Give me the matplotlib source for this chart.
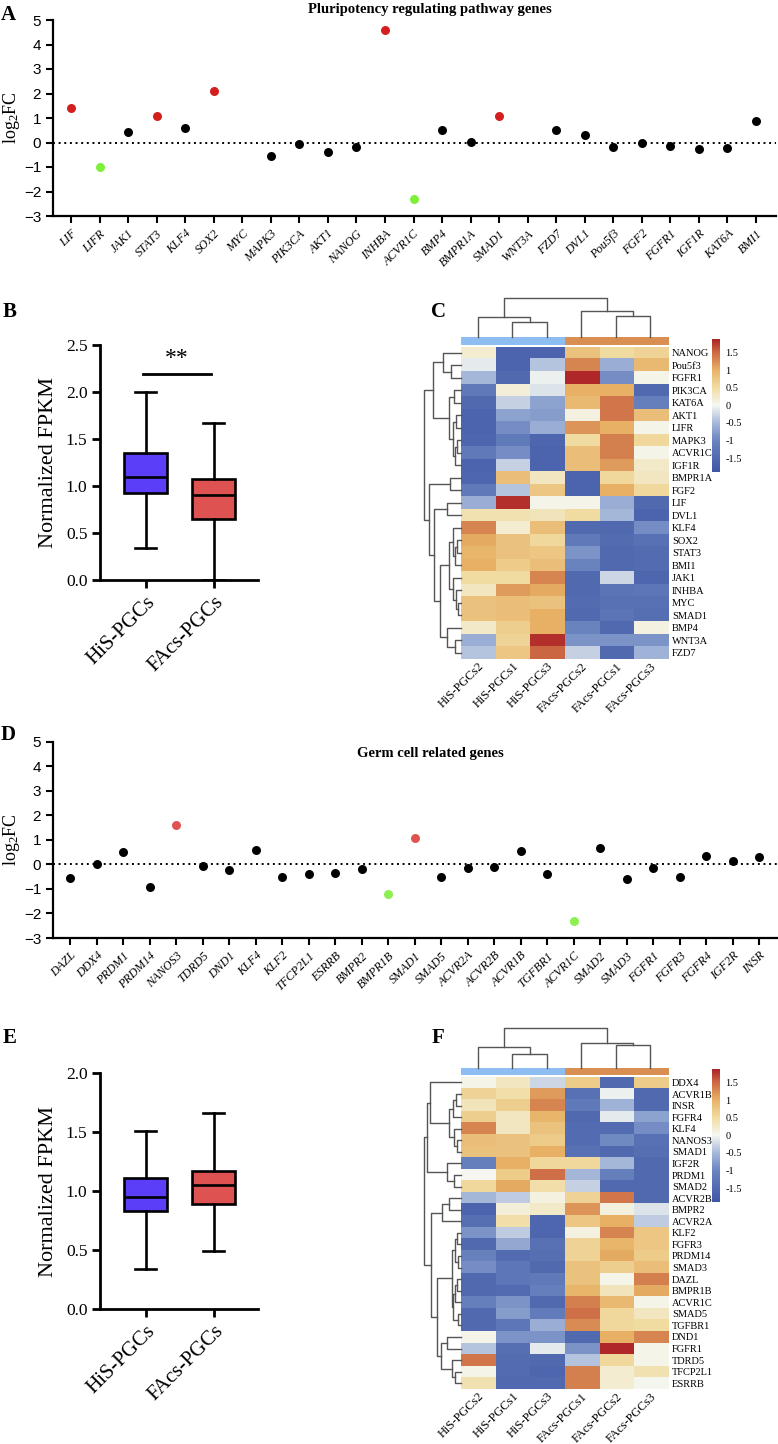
import numpy as np
import matplotlib
matplotlib.use("Agg")
import matplotlib.pyplot as plt
from matplotlib.colors import LinearSegmentedColormap, ListedColormap

SERIF = "Liberation Serif"
SANS = "Liberation Sans"
plt.rcParams["mathtext.fontset"] = "custom"
plt.rcParams["mathtext.rm"] = SERIF
plt.rcParams["mathtext.it"] = SERIF + ":italic"

# --- panel A: pluripotency genes, log2FC ------------------------------------
genes_a = ["LIF", "LIFR", "JAK1", "STAT3", "KLF4", "SOX2", "MYC", "MAPK3",
           "PIK3CA", "AKT1", "NANOG", "INHBA", "ACVR1C", "BMP4", "BMPR1A",
           "SMAD1", "WNT3A", "FZD7", "DVL1", "Pou5f3", "FGF2", "FGFR1",
           "IGF1R", "KAT6A", "BMI1"]
lfc_a = [1.41, -0.99, 0.41, 1.07, 0.61, 2.11, np.nan, -0.56, -0.08, -0.38,
         -0.18, 4.58, -2.30, 0.52, 0.04, 1.09, np.nan, 0.52, 0.30, -0.18,
         -0.04, -0.15, -0.27, -0.22, 0.86]
status_a = ["up", "down", "ns", "up", "ns", "up", "ns", "ns", "ns", "ns",
            "ns", "up", "down", "ns", "ns", "up", "ns", "ns", "ns", "ns",
            "ns", "ns", "ns", "ns", "ns"]

# --- panel D: germ cell genes, log2FC ---------------------------------------
genes_d = ["DAZL", "DDX4", "PRDM1", "PRDM14", "NANOS3", "TDRD5", "DND1",
           "KLF4", "KLF2", "TFCP2L1", "ESRRB", "BMPR2", "BMPR1B", "SMAD1",
           "SMAD5", "ACVR2A", "ACVR2B", "ACVR1B", "TGFBR1", "ACVR1C", "SMAD2",
           "SMAD3", "FGFR1", "FGFR3", "FGFR4", "IGF2R", "INSR"]
lfc_d = [-0.57, 0.01, 0.49, -0.93, 1.62, -0.05, -0.23, 0.60, -0.53, -0.41,
         -0.35, -0.19, -1.21, 1.07, -0.50, -0.14, -0.10, 0.56, -0.39, -2.30,
         0.65, -0.59, -0.16, -0.52, 0.34, 0.14, 0.31]
status_d = ["ns", "ns", "ns", "ns", "up", "ns", "ns", "ns", "ns", "ns",
            "ns", "ns", "down", "up", "ns", "ns", "ns", "ns", "ns", "down",
            "ns", "ns", "ns", "ns", "ns", "ns", "ns"]

# --- panels B / E: box summaries (whislo, q1, median, q3, whishi) -----------
groups = ["HiS-PGCs", "FAcs-PGCs"]
box_b = [[0.34, 0.93, 1.10, 1.35, 2.00],
         [0.00, 0.65, 0.90, 1.07, 1.67]]
box_e = [[0.34, 0.83, 0.95, 1.11, 1.51],
         [0.49, 0.89, 1.05, 1.17, 1.66]]

# --- panel C heatmap ---------------------------------------------------------
cols_c = ["HiS-PGCs2", "HiS-PGCs1", "HiS-PGCs3",
          "FAcs-PGCs2", "FAcs-PGCs1", "FAcs-PGCs3"]
rows_c = ["NANOG", "Pou5f3", "FGFR1", "PIK3CA", "KAT6A", "AKT1", "LIFR",
          "MAPK3", "ACVR1C", "IGF1R", "BMPR1A", "FGF2", "LIF", "DVL1", "KLF4",
          "SOX2", "STAT3", "BMI1", "JAK1", "INHBA", "MYC", "SMAD1", "BMP4",
          "WNT3A", "FZD7"]
z_c = [[0.20, -1.60, -1.60, 0.80, 0.50, 0.60],
       [-0.10, -1.60, -0.40, 1.30, -0.60, 0.90],
       [-0.50, -1.50, -0.05, 1.85, -0.90, 0.05],
       [-1.20, 0.15, -0.15, 1.00, 1.00, -1.50],
       [-1.50, -0.30, -0.70, 0.90, 1.40, -1.10],
       [-1.60, -0.70, -0.75, 0.10, 1.40, 0.85],
       [-1.60, -0.90, -0.60, 1.20, 1.00, 0.05],
       [-1.55, -1.20, -1.55, 0.50, 1.35, 0.55],
       [-1.20, -0.90, -1.60, 0.85, 1.35, 0.05],
       [-1.60, -0.30, -1.60, 0.85, 1.15, 0.25],
       [-1.55, 0.85, 0.30, -1.60, 0.55, 0.30],
       [-1.20, -0.40, 0.75, -1.60, 1.00, 0.55],
       [-0.60, 1.80, 0.05, 0.05, -0.60, -1.50],
       [0.40, 0.40, 0.35, 0.50, -0.50, -1.60],
       [1.30, 0.20, 0.85, -1.50, -1.50, -0.90],
       [1.05, 0.80, 0.55, -1.20, -1.45, -1.35],
       [0.95, 0.80, 0.75, -0.85, -1.50, -1.45],
       [1.00, 0.70, 0.85, -1.00, -1.50, -1.45],
       [0.50, 0.50, 1.30, -1.50, -0.25, -1.55],
       [0.30, 1.15, 1.05, -1.50, -1.30, -1.25],
       [0.80, 0.85, 0.80, -1.45, -1.35, -1.35],
       [0.80, 0.85, 1.00, -1.50, -1.30, -1.40],
       [0.25, 0.65, 1.00, -1.00, -1.50, 0.10],
       [-0.60, 0.60, 1.80, -0.85, -0.85, -0.85],
       [-0.40, 0.75, 1.50, -0.30, -1.50, -0.55]]
# dendrograms as nested (left, right, height_px); leaves are display indices
tree_cols_c = ((0, (1, 2, 15), 20), (3, (4, 5, 21.5), 26), 39)
tree_rows_c = (((0, (1, 2, 10), 18),
                ((3, 4, 7), ((5, 6, 5), ((7, 8, 4), 9, 6), 8), 12), 28),
               ((10, 11, 11),
                ((12, 13, 14),
                 (((14, ((15, 16, 4), 17, 6), 8),
                   (18, (19, (20, 21, 3), 5), 8), 12),
                  (22, (23, 24, 6), 14), 21), 27), 32), 37)

# --- panel F heatmap ---------------------------------------------------------
cols_f = ["HiS-PGCs2", "HiS-PGCs1", "HiS-PGCs3",
          "FAcs-PGCs1", "FAcs-PGCs2", "FAcs-PGCs3"]
rows_f = ["DDX4", "ACVR1B", "INSR", "FGFR4", "KLF4", "NANOS3", "SMAD1",
          "IGF2R", "PRDM1", "SMAD2", "ACVR2B", "BMPR2", "ACVR2A", "KLF2",
          "FGFR3", "PRDM14", "SMAD3", "DAZL", "BMPR1B", "ACVR1C", "SMAD5",
          "TGFBR1", "DND1", "FGFR1", "TDRD5", "TFCP2L1", "ESRRB"]
z_f = [[0.05, 0.30, -0.25, 0.70, -1.50, 0.70],
       [0.60, 0.45, 1.15, -1.35, -0.05, -1.50],
       [0.35, 0.65, 1.30, -1.20, -0.55, -1.50],
       [0.65, 0.30, 0.95, -1.50, -0.10, -0.70],
       [1.30, 0.30, 0.80, -1.45, -1.45, -0.90],
       [0.85, 0.80, 0.70, -1.45, -0.95, -1.35],
       [0.80, 0.80, 1.00, -1.35, -1.50, -1.40],
       [-1.10, 1.00, 0.55, 0.55, -0.50, -1.50],
       [0.00, 0.70, 1.45, -0.50, -1.10, -1.50],
       [0.55, 1.05, 0.45, -0.30, -1.50, -1.50],
       [-0.50, -0.35, 0.10, 0.60, 1.40, -1.50],
       [-1.60, 0.15, 0.25, 1.20, 0.12, -0.15],
       [-1.40, 0.45, -1.55, 0.75, 1.00, -0.35],
       [-0.85, -0.35, -1.55, 0.10, 1.30, 0.75],
       [-1.50, -0.65, -1.35, 0.60, 0.95, 0.75],
       [-1.05, -1.45, -1.40, 0.60, 1.05, 0.70],
       [-0.90, -1.25, -1.50, 0.80, 0.65, 0.85],
       [-1.50, -1.25, -1.20, 0.80, 0.05, 1.35],
       [-1.50, -1.45, -1.10, 0.95, 0.35, 1.05],
       [-1.10, -0.85, -1.50, 1.35, 0.90, 0.05],
       [-1.50, -0.75, -1.15, 1.45, 0.55, 0.30],
       [-1.50, -1.25, -0.60, 1.25, 0.55, 0.50],
       [0.05, -0.85, -0.85, -1.50, 1.00, 1.30],
       [-0.40, -1.40, -0.10, -0.85, 1.85, 0.05],
       [1.40, -1.45, -1.50, -0.40, 0.55, 0.05],
       [0.05, -1.45, -1.55, 1.35, 0.20, 0.40],
       [0.40, -1.50, -1.50, 1.35, 0.20, 0.02]]
tree_cols_f = ((0, (1, 2, 13.7), 21), (3, (4, 5, 22.7), 24.4), 39.4)
tree_rows_f = (((0, (((1, 2, 5), 3, 8), (4, (5, 6, 4), 7), 12), 31),
                (7, (8, 9, 7), 14), 34),
               (((10, 11, 12), 12, 19),
                (((((13, 14, 4), (15, 16, 3), 6),
                   (((17, 18, 4), 19, 6), (20, 21, 3), 8), 9),
                  ((22, 23, 14), (24, (25, 26, 6), 9), 20), 24)), 30), 37)

W, H = 778, 1444
fig = plt.figure(figsize=(W / 100, H / 100), dpi=100)


def px_axes(x0, y0, x1, y1):
    return fig.add_axes([x0 / W, 1 - y1 / H, (x1 - x0) / W, (y1 - y0) / H])


def style_axes(ax):
    for s in ("top", "right"):
        ax.spines[s].set_visible(False)
    for s in ("left", "bottom"):
        ax.spines[s].set_linewidth(1.6)
    ax.tick_params(direction="out", length=5, width=1.5)


def lfc_panel(ax, genes, lfc, status, colors):
    x = np.arange(len(genes))
    vals = np.array(lfc)
    st = np.array(status)
    ax.axhline(0, color="black", ls=(0, (1, 1.9)), lw=1.4, zorder=1)
    for key, col in colors.items():
        m = st == key
        ax.scatter(x[m], vals[m], s=42, color=col, linewidths=0, zorder=3)
    ax.set_ylim(-3, 5)
    ax.set_yticks(range(-3, 6))
    ax.set_xticks(x)
    ax.set_xticklabels(genes, rotation=45, ha="right", rotation_mode="anchor",
                       fontfamily=SERIF, fontstyle="italic", fontsize=8.8)
    for t in ax.get_yticklabels():
        t.set_fontfamily(SANS)
        t.set_fontsize(11)
    ax.set_ylabel(r"$\mathrm{log_2FC}$", fontsize=13, labelpad=1)
    style_axes(ax)


def box_panel(ax, stats, colors, ymax):
    bx = [dict(whislo=s[0], q1=s[1], med=s[2], q3=s[3], whishi=s[4],
               label=g) for s, g in zip(stats, groups)]
    lw = 1.9
    art = ax.bxp(bx, positions=[1, 2], widths=0.63, patch_artist=True,
                 showfliers=False,
                 boxprops=dict(linewidth=lw, edgecolor="black"),
                 medianprops=dict(linewidth=lw, color="black"),
                 whiskerprops=dict(linewidth=lw, color="black"),
                 capprops=dict(linewidth=lw, color="black"))
    for patch, c in zip(art["boxes"], colors):
        patch.set_facecolor(c)
    ax.set_ylim(0, ymax)
    ax.set_yticks(np.arange(0, ymax + 0.01, 0.5))
    ax.set_yticklabels([f"{v:.1f}" for v in np.arange(0, ymax + 0.01, 0.5)],
                       fontfamily=SERIF, fontsize=12.5)
    ax.set_xticks([1, 2])
    ax.set_xticklabels(groups, rotation=45, ha="right", rotation_mode="anchor",
                       fontfamily=SERIF, fontsize=15)
    ax.set_ylabel("Normalized FPKM", fontfamily=SERIF, fontsize=16,
                  labelpad=6)
    style_axes(ax)
    ax.spines["left"].set_linewidth(2.0)
    ax.spines["bottom"].set_linewidth(2.0)
    ax.tick_params(length=6, width=2.0, pad=3)


cmap = LinearSegmentedColormap.from_list(
    "hm", [(0.0, "#3f56a5"), (0.234, "#6a84bf"), (0.367, "#a6b8da"),
           (0.5, "#f5f7f1"), (0.633, "#f1dca2"), (0.766, "#e8b266"),
           (0.899, "#cc6944"), (1.0, "#ad2226")])
VMAX = 1.88


def walk(node, segs):
    if isinstance(node, int):
        return node + 0.5, 0.0
    left, right, h = node
    pl, hl = walk(left, segs)
    pr, hr = walk(right, segs)
    segs.append(([pl, pl, pr, pr], [hl, h, h, hr]))
    return (pl + pr) / 2, h


def clustermap(z, rows, cols, tree_r, tree_c, y_den, y_ann, y_heat0, y_heat1,
               cb0, cb1):
    x0, x1 = 460.7, 667.7
    ax = px_axes(x0, y_heat0, x1, y_heat1)
    im = ax.imshow(np.array(z), cmap=cmap, vmin=-VMAX, vmax=VMAX,
                   aspect="auto", interpolation="nearest")
    ax.set_yticks(range(len(rows)))
    ax.set_yticklabels(rows, fontfamily=SERIF, fontsize=7.5)
    ax.yaxis.tick_right()
    ax.set_xticks(range(len(cols)))
    ax.set_xticklabels(cols, rotation=45, ha="right", rotation_mode="anchor",
                       fontfamily=SERIF, fontsize=9)
    ax.tick_params(axis="y", length=0, pad=3)
    ax.tick_params(axis="x", length=0, pad=1)
    for s in ax.spines.values():
        s.set_visible(False)

    # column annotation bar
    axa = px_axes(x0, y_ann, x1, y_heat0 - 1.7)
    axa.imshow([[0, 0, 0, 1, 1, 1]], aspect="auto",
               cmap=ListedColormap(["#8ebdf2", "#d98f52"]))
    axa.axis("off")

    # column dendrogram
    axd = px_axes(x0, y_den, x1, y_ann)
    segs = []
    walk(tree_c, segs)
    for xs, ys in segs:
        axd.plot(xs, ys, color="#555555", lw=1.0, clip_on=False)
    axd.set_xlim(0, len(cols))
    axd.set_ylim(0, y_ann - y_den)
    axd.axis("off")

    # row dendrogram
    axr = px_axes(423, y_heat0, x0, y_heat1)
    segs = []
    walk(tree_r, segs)
    for xs, ys in segs:
        axr.plot(ys, xs, color="#555555", lw=1.0, clip_on=False)
    axr.set_ylim(len(rows), 0)
    axr.set_xlim(x0 - 423, 0)
    axr.axis("off")

    # colour key
    cax = px_axes(711.7, cb0, 720, cb1)
    cb = fig.colorbar(im, cax=cax, ticks=[-1.5, -1, -0.5, 0, 0.5, 1, 1.5])
    cb.outline.set_visible(False)
    cb.ax.set_yticklabels(["-1.5", "-1", "-0.5", "0", "0.5", "1", "1.5"],
                          fontfamily=SERIF, fontsize=7.5)
    cb.ax.tick_params(length=0, pad=4)


# --- A ---
axA = px_axes(53, 20, 776, 216)
lfc_panel(axA, genes_a, lfc_a, status_a,
          {"ns": "black", "up": "#d41f1f", "down": "#7ef03c"})
axA.set_xlim(-0.63, 24.7)
fig.text(430 / W, 1 - 9 / H, "Pluripotency regulating pathway genes",
         ha="center", va="center", fontfamily=SERIF, fontweight="bold",
         fontsize=10.5)

# --- D ---
axD = px_axes(53, 741.7, 778, 938)
lfc_panel(axD, genes_d, lfc_d, status_d,
          {"ns": "black", "up": "#e05353", "down": "#8cf052"})
axD.set_xlim(-0.65, 26.7)
fig.text(430 / W, 1 - 753 / H, "Germ cell related genes",
         ha="center", va="center", fontfamily=SERIF, fontweight="bold",
         fontsize=10.5)

# --- B ---
axB = px_axes(100, 345, 258, 580)
box_panel(axB, box_b, ["#5b3ff8", "#de5252"], 2.5)
axB.set_xlim(0.331, 2.654)
axB.plot([0.96, 1.96], [2.19, 2.19], color="black", lw=2.0, clip_on=False)
axB.text(1.46, 2.24, "**", ha="center", va="bottom", fontfamily=SERIF,
         fontsize=17)

# --- E ---
axE = px_axes(100, 1073.3, 258, 1309)
box_panel(axE, box_e, ["#5b3ff8", "#de5252"], 2.0)
axE.set_xlim(0.331, 2.654)

# --- C / F heatmaps ---
clustermap(z_c, rows_c, cols_c, tree_rows_c, tree_cols_c,
           298, 337.3, 346.7, 659, 339, 471.7)
clustermap(z_f, rows_f, cols_f, tree_rows_f, tree_cols_f,
           1028, 1067.7, 1076.7, 1389, 1069, 1201.7)

# panel letters
for letter, (lx, ly) in {"A": (8, 15), "B": (10, 312), "C": (438, 312),
                         "D": (8, 735), "E": (10, 1038),
                         "F": (438, 1038)}.items():
    fig.text(lx / W, 1 - ly / H, letter, ha="center", va="center",
             fontfamily=SERIF, fontweight="bold", fontsize=15)

fig.savefig("out.png", dpi=100)
